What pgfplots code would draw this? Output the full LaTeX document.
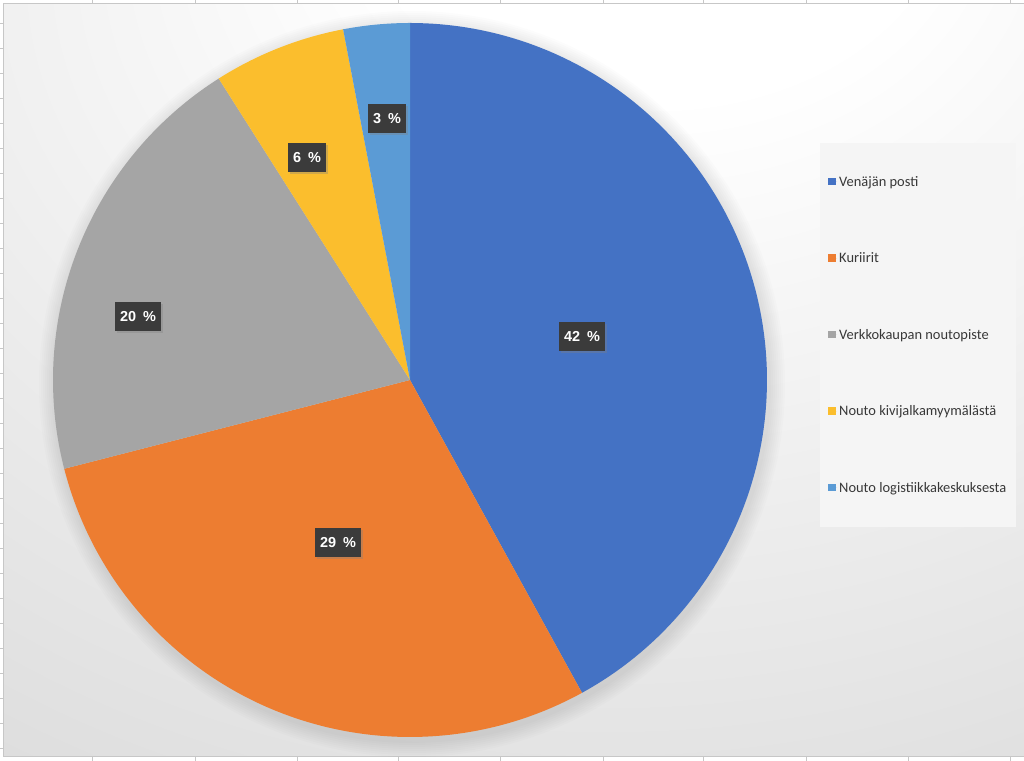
\documentclass[border=0pt]{standalone}
\usepackage{pgfplots}
\pgfplotsset{compat=1.18}
\usepackage{fontspec}
\setmainfont{Carlito}
\newfontfamily\lblfont{Liberation Sans}
\usetikzlibrary{shadows}

\definecolor{cBlue}{HTML}{4472C4}
\definecolor{cOrange}{HTML}{ED7D31}
\definecolor{cGray}{HTML}{A5A5A5}
\definecolor{cYellow}{HTML}{FBBE2D}
\definecolor{cLight}{HTML}{5B9BD5}

\pgfdeclareradialshading{bgshade}{\pgfpoint{8bp}{38bp}}{%
  color(0bp)=(white); color(14bp)=(white); color(55bp)=(black!14); color(80bp)=(black!17); color(100bp)=(black!18)}

% pie values (percent)
\def\vA{42}\def\vB{29}\def\vC{20}\def\vD{6}\def\vE{3}
\pgfmathsetmacro\sA{0}
\pgfmathsetmacro\sB{\sA+3.6*\vA}
\pgfmathsetmacro\sC{\sB+3.6*\vB}
\pgfmathsetmacro\sD{\sC+3.6*\vC}
\pgfmathsetmacro\sE{\sD+3.6*\vD}
\pgfmathsetmacro\sF{\sE+3.6*\vE}
\def\cx{410}\def\cy{381}\def\R{357}

\begin{document}
\begin{tikzpicture}[x=1bp,y=1bp,
  lbl/.style={fill=black!77, text=white, inner xsep=5bp, inner ysep=0bp,
    minimum height=29bp, font=\lblfont\bfseries\fontsize{14.5}{16}\selectfont,
    drop shadow={opacity=0.35, shadow xshift=2bp, shadow yshift=-2bp}}]
\useasboundingbox (0,0) rectangle (1024,761);
\fill[white] (0,0) rectangle (1024,761);
\shade[shading=bgshade] (3,4) rectangle (1024,757);
\draw[black!22, line width=1bp] (1025,757) -- (3,757) -- (3,4) -- (1025,4);
\foreach \x in {92,195,297,398,500,603,703,806,908,1010} {
  \draw[black!22, line width=0.8bp] (\x,757) -- (\x,761);
  \draw[black!22, line width=0.8bp] (\x,0) -- (\x,4);}
\foreach \k in {0,...,29} {\draw[black!22, line width=0.8bp] (0,{738-25*\k}) -- (3,{738-25*\k});}
% soft shadow of the pie
\foreach \k in {2,4,...,16} {\fill[black, opacity=0.012] (\cx+2,\cy-4) circle ({\R+\k});}

\begin{axis}[at={(0,0)}, anchor=south west, scale only axis,
  width=1024bp, height=761bp, xmin=0, xmax=1024, ymin=0, ymax=761,
  hide axis, clip=false,
  legend style={at={(0.8008,0.8121)}, anchor=north west,
    fill=white!96!black, draw=none, inner xsep=8bp, inner ysep=31bp,
    row sep=61bp, text=black!78,
    font=\fontsize{14.5}{16}\selectfont},
  legend cell align=left,
  legend image code/.code={\fill[#1] (0bp,-3.5bp) rectangle (7.5bp,4bp); \path (0bp,0bp) -- (9bp,0bp);},
]
\addplot[draw=none, fill=cBlue, domain=\sA:\sB, samples=120, variable=\t]
  ({\cx+\R*sin(\t)}, {\cy+\R*cos(\t)}) -- (axis cs:\cx,\cy) -- cycle;
\addlegendentry{Venäjän posti}
\addplot[draw=none, fill=cOrange, domain=\sB:\sC, samples=100, variable=\t]
  ({\cx+\R*sin(\t)}, {\cy+\R*cos(\t)}) -- (axis cs:\cx,\cy) -- cycle;
\addlegendentry{Kuriirit}
\addplot[draw=none, fill=cGray, domain=\sC:\sD, samples=80, variable=\t]
  ({\cx+\R*sin(\t)}, {\cy+\R*cos(\t)}) -- (axis cs:\cx,\cy) -- cycle;
\addlegendentry{Verkkokaupan noutopiste}
\addplot[draw=none, fill=cYellow, domain=\sD:\sE, samples=30, variable=\t]
  ({\cx+\R*sin(\t)}, {\cy+\R*cos(\t)}) -- (axis cs:\cx,\cy) -- cycle;
\addlegendentry{Nouto kivijalkamyymälästä}
\addplot[draw=none, fill=cLight, domain=\sE:\sF, samples=20, variable=\t]
  ({\cx+\R*sin(\t)}, {\cy+\R*cos(\t)}) -- (axis cs:\cx,\cy) -- cycle;
\addlegendentry{Nouto logistiikkakeskuksesta}

\node[lbl] at (axis cs:582,424) {42\hspace{7bp}\%};
\node[lbl] at (axis cs:338,218) {29\hspace{7bp}\%};
\node[lbl] at (axis cs:138,444) {20\hspace{7bp}\%};
\node[lbl] at (axis cs:307,603) {6\hspace{7bp}\%};
\node[lbl] at (axis cs:387,642) {3\hspace{7bp}\%};
\end{axis}
\end{tikzpicture}
\end{document}
